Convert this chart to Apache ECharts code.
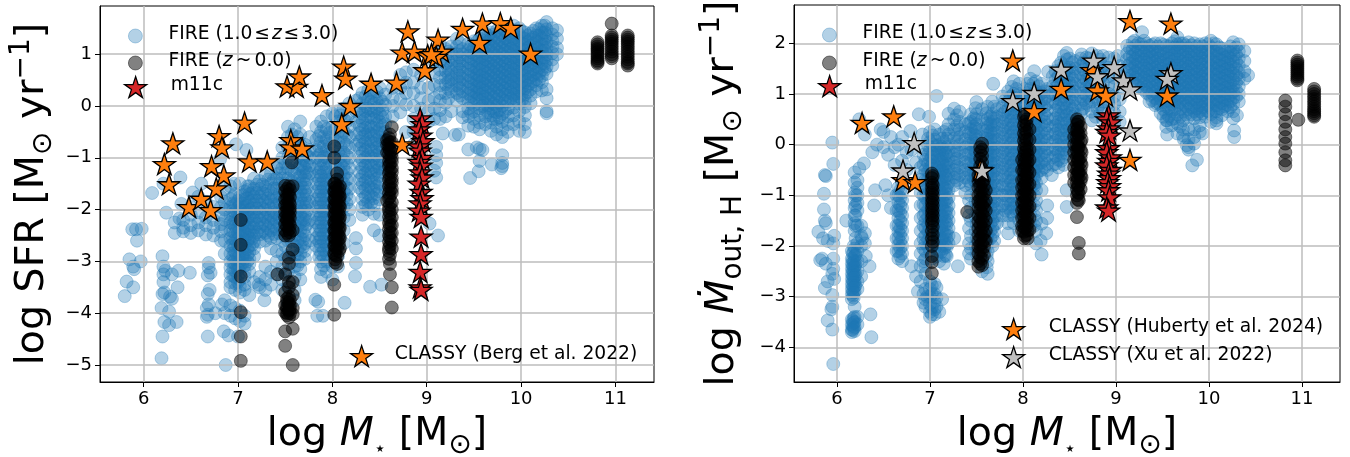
<!DOCTYPE html>
<html><head><meta charset="utf-8">
<style>html,body{margin:0;padding:0;background:#fff}#c{width:1350px;height:457px}</style>
<script src="https://cdn.jsdelivr.net/npm/echarts@6/dist/echarts.min.js"></script>
</head><body><div id="c"></div>
<script>
const xTickValues=[6,7,8,9,10,11];
const ySfrTickValues=[-5,-4,-3,-2,-1,0,1];
const yOutTickValues=[-4,-3,-2,-1,0,1,2];
const labelFireHigh='FIRE (1.0 ≤ z ≤ 3.0)', labelFireLocal='FIRE (z ~ 0.0)', labelM11c='m11c';
const labelBerg='CLASSY (Berg et al. 2022)', labelHuberty='CLASSY (Huberty et al. 2024)', labelXu='CLASSY (Xu et al. 2022)';

const sfrHighLoose=[[6.09,-1.68],[6.24,-2.06],[6.21,-1.5],[6.39,-1.38],[6.38,-2.17],[6.4,-1.89],[6.52,-1.67],[6.61,-1.5],[6.81,-1.03],[6.98,-0.74],[7.09,-0.85],[6.96,-1.5],[7.1,-1.55],[7.17,-1.4],
[5.8,-3.67],[5.82,-3.39],[5.89,-3.5],[5.85,-2.96],[5.89,-3.1],[5.9,-3.15],[5.97,-3],[5.93,-2.6],[5.88,-2.38],[5.92,-2.38],[5.98,-2.37],
[6.2,-2.9],[6.21,-3.1],[6.21,-3.25],[6.23,-3.18],[6.21,-3.4],[6.2,-3.63],[6.22,-3.6],[6.19,-3.9],[6.27,-3.97],[6.22,-4.17],[6.27,-4.23],[6.2,-4.45],[6.19,-4.87],[6.35,-4.17],[6.28,-3.68],[6.3,-3.72],[6.36,-3.5],[6.3,-3.25],[6.37,-3.18],[6.49,-3.22],
[6.69,-3.03],[6.69,-3.12],[6.68,-3.27],[6.71,-3.22],[6.7,-3.55],[6.68,-3.63],[6.67,-3.9],[6.69,-3.83],[6.67,-4.07],[6.68,-4.03],[6.68,-4.45],[6.87,-5],[6.85,-4.35],[6.9,-4.43],[6.76,-4],[6.83,-3.83],[7,-4.45],
[8.13,-3.8],[8.24,-3.29],[8.25,-3.03],[8.4,-3.49],[8.52,-3.45],[7.82,-3.74],[7.85,-3.78],[7.84,-4.05],[7.9,-4.05],[7.28,-3.75],[7.22,-3.45],[7.17,-3.4],
[9.12,-2.5],[9.03,-2.27],[9.1,-0.79],[9.1,-0.95],[9.1,-1.1],[9.08,-1.25],[9.1,-1.38],[9.17,-0.53],[9.3,-0.56],[9.34,-0.55],[9.44,-0.84],[9.53,-0.8],[9.56,-0.83],[9.59,-0.85],[9.56,-1.06],[9.55,-1.26],[9.46,-1.39],[9.69,-1.13],[9.8,-0.95],[9.8,-1.1],[9.79,-1.2],[9.8,-1.16]];
const sfrHighTracks=[
[6.33,[-2.25,-2.45]],[6.42,[-2.2,-2.35,-2.42]],[6.5,[-1.95,-2.1,-2.3,-2.45]],[6.58,[-1.75,-2.05,-2.25,-2.4]],[6.66,[-1.85,-2.15,-2.3,-2.48]],[6.74,[-1.95,-2.2,-2.35,-2.5]],[6.82,[-1.75,-1.95,-2.1,-2.28,-2.42,-2.6]],
[6.86,[-1.6,-1.85,-2,-2.2,-2.35,-2.6,-2.85,-3.75,-4.0]],
[6.92,[-1.55,-1.8,-1.95,-2.1,-2.25,-2.4,-2.55,-2.7,-2.85,-3,-3.12,-3.25,-3.4,-3.5,-3.85,-4.05]],
[6.97,[-1.7,-1.9,-2.05,-2.2,-2.32,-2.45,-2.58,-2.7,-2.82,-2.95,-3.05,-3.18,-3.3,-3.42,-3.55,-3.9,-4.1]],
[7.02,[-1.5,-1.75,-1.9,-2,-2.12,-2.25,-2.38,-2.5,-2.62,-2.75,-2.88,-3,-3.1,-3.22,-3.35,-3.48,-3.6,-3.95,-4.15]],
[7.07,[-1.65,-1.8,-1.95,-2.08,-2.2,-2.32,-2.45,-2.58,-2.7,-2.82,-2.95,-3.08,-3.2,-3.3,-3.45,-3.55,-4.05,-4.2]],
[7.12,[-1.55,-1.7,-1.85,-2,-2.15,-2.3,-2.42,-2.55,-2.7,-2.82,-2.95,-3.05,-3.2,-3.65]],
[7.17,[-1.6,-1.75,-1.9,-2.05,-2.2,-2.35,-2.5,-2.62,-2.75,-2.9]],
[7.23,[-1.45,-1.6,-1.75,-1.9,-2.05,-2.2,-2.35,-2.48,-2.62,-3.3,-3.5]],
[7.29,[-1.35,-1.55,-1.7,-1.85,-2,-2.15,-2.3,-2.45,-2.6,-3.1,-3.35,-3.55]],
[7.35,[-1.3,-1.5,-1.68,-1.82,-1.98,-2.12,-2.25,-2.4,-2.55,-2.75,-3.2,-3.45]],
[7.41,[-1.2,-1.4,-1.6,-1.78,-1.92,-2.08,-2.22,-2.38,-2.55,-2.8,-3,-3.25]],
[7.47,[-0.8,-1,-1.2,-1.4,-1.6,-1.8,-2,-2.2,-2.4,-2.6,-2.85,-3.1,-3.35,-3.55]],
[7.53,[-0.4,-0.6,-0.8,-1,-1.2,-1.4,-1.7,-2,-2.3,-2.6,-2.9,-3.2,-3.5,-3.8]],
[7.6,[-0.45,-0.7,-0.9,-1.1,-1.3,-1.5,-1.7,-1.9,-2.1,-2.3,-2.5,-2.7,-2.9,-3.1,-3.3,-3.55,-3.75]],
[7.66,[-0.3,-0.55,-0.75,-0.95,-1.15,-1.35,-1.5,-1.65,-1.8,-1.95,-2.1,-2.25,-2.4,-2.55,-2.7,-2.85,-3,-3.15,-3.35]],
[7.71,[-0.75,-0.9,-1.05,-1.2,-1.35,-1.5,-1.65,-1.8,-1.95,-2.1,-2.2,-2.35,-2.5,-2.65,-2.8,-2.95]],
[7.76,[-0.6,-0.85,-1,-1.15,-1.3,-1.85,-2.2,-2.6]],
[7.83,[-0.4,-0.65,-0.85,-1,-1.2,-1.35,-1.5,-1.65,-1.8,-1.95,-2.1,-2.25,-2.4,-2.55,-2.7]],
[7.88,[-0.3,-0.5,-0.7,-0.9,-1.05,-1.2,-1.35,-1.5,-1.65,-1.8,-1.95,-2.1,-2.25,-2.4,-2.55,-2.7,-2.85,-3,-3.15,-3.3]],
[7.94,[-0.2,-0.45,-0.65,-0.85,-1,-1.2,-1.35,-1.5,-1.65,-1.8,-1.95,-2.1,-2.25,-2.4,-2.55,-2.7,-2.85,-3,-3.2]],
[8,[-0.15,-0.4,-0.6,-0.85,-1.1,-1.35,-1.6,-1.85,-2.1,-2.35,-2.6,-2.85,-3.1,-3.35]],
[8.06,[-0.1,-0.3,-0.5,-0.7,-0.9,-1.05,-1.2,-1.35,-1.5,-1.65,-1.8,-1.95,-2.1,-2.3,-2.5,-2.7,-2.9,-3.1]],
[8.12,[-0.05,-0.25,-0.5,-0.7,-0.9,-1.05,-1.2,-1.35,-1.5,-1.65,-1.8,-1.95,-2.15,-2.4,-2.65]],
[8.18,[0.05,-0.15,-0.4,-0.6,-0.8,-1,-1.2,-1.4,-1.6,-1.8,-2,-2.2]],
[8.25,[0.1,-0.1,-0.3,-0.55,-0.75,-2.55,-2.75]],
[8.32,[0.25,0.05,-0.15,-0.3,-0.45,-0.6,-0.75,-0.9,-1.05,-1.2,-1.35,-1.5,-1.65,-1.8,-1.95,-2.1]],
[8.38,[0.3,0.12,-0.05,-0.2,-0.38,-0.5,-0.65,-0.8,-0.95,-1.1,-1.25,-1.4,-1.55,-1.7,-1.85,-2]],
[8.44,[0.2,0.05,-0.1,-0.25,-0.42,-0.58,-0.72,-0.88,-1.02,-1.18,-1.32,-1.48,-1.62,-1.78,-1.92,-2.08,-2.4]],
[8.5,[0.35,0.15,0,-0.15,-0.3,-0.45,-0.6,-0.75,-0.9,-1.05,-1.2,-1.35,-1.5,-1.65,-1.8,-2.1,-2.5]],
[8.56,[0.22,0.02,-0.2,-0.35,-0.5,-0.65,-1.2,-1.6]],
[8.64,[0.35,0.15,0,-0.2]],[8.72,[0.6,0.35,0.12,-0.12]],[8.78,[0.65,0.45,0.25,0.03,-0.5]],[8.86,[0.7,0.45,0.25,0,-0.25,-0.5,-0.75]],[8.94,[0.6,0.35,0.15,-0.05]],[9.02,[0.35,0.1,-0.1,-0.3]],
[9.08,[0.85,0.65,0.4,0.15,-0.05,-0.25]],
[9.14,[1.2,1.02,0.86,0.7,0.55,0.4,0.25,0.1,-0.08,-0.25]],
[9.2,[1.1,0.95,0.82,0.68,0.55,0.42,0.25,0.06,-0.2]],
[9.26,[1.15,1.02,0.9,0.78,0.65,0.52,0.4,0.28,-0.1]],
[9.32,[1.3,1.15,1,0.88,0.76,0.64,0.52,0.4,0.25,0.1]],
[9.38,[1.1,1,0.88,0.76,0.64,0.52,0.4,0.28,0.15,-0.1,-0.22]],
[9.44,[1.2,1.08,0.96,0.84,0.72,0.6,0.48,0.36,0.24,0.1,-0.05,-0.2,-0.38]],
[9.5,[1.25,1.12,1,0.88,0.76,0.64,0.52,0.4,0.28,0.16,0.02,-0.1,-0.25,-0.4]],
[9.56,[1.3,1.18,1.06,0.94,0.82,0.7,0.58,0.46,0.34,0.22,0.1,-0.05,-0.18,-0.32,-0.45]],
[9.62,[1.4,1.26,1.14,1.02,0.9,0.78,0.66,0.54,0.42,0.3,0.18,0.05,-0.08,-0.2,-0.35]],
[9.68,[1.42,1.3,1.18,1.06,0.94,0.82,0.7,0.58,0.46,0.34,0.22,0.08,-0.05,-0.18,-0.32,-0.48]],
[9.74,[1.45,1.33,1.2,1.08,0.96,0.84,0.72,0.6,0.48,0.36,0.24,0.12,0,-0.12,-0.25,-0.4,-0.55]],
[9.8,[1.5,1.36,1.24,1.12,1,0.88,0.76,0.64,0.52,0.4,0.28,0.14,0,-0.15,-0.3,-0.45,-0.6]],
[9.86,[1.52,1.4,1.28,1.16,1.04,0.92,0.8,0.68,0.56,0.44,0.32,0.2,0.08,-0.05,-0.2,-0.35,-0.5]],
[9.92,[1.55,1.42,1.3,1.18,1.06,0.94,0.82,0.7,0.58,0.46,0.34,0.22,0.1,-0.03,-0.18,-0.35]],
[9.98,[1.5,1.38,1.26,1.14,1.02,0.9,0.78,0.66,0.54,0.42,0.3,0.18,0.05,-0.1,-0.3,-0.48]],
[10.04,[1.42,1.3,1.18,1.06,0.94,0.82,0.7,0.58,0.46,0.34,0.22,0.1,-0.02,-0.18,-0.35,-0.5]],
[10.1,[1.4,1.28,1.16,1.04,0.92,0.8,0.68,0.56,0.44,0.32,0.2,0.05]],
[10.16,[1.5,1.36,1.24,1.12,1,0.88,0.76,0.64,0.52,0.4,0.28]],
[10.22,[1.55,1.42,1.3,1.18,1.06,0.94,0.82,0.7,0.58,0.46,0.3]],
[10.27,[1.62,1.48,1.36,1.24,1.12,1,0.88,0.76,0.62,0.32,0.15,-0.14,-0.1]],
[10.33,[1.5,1.38,1.26,1.14,1.02,0.9,0.78]],
[10.38,[1.46,1.3,1.12,1]],
[9.23,[1.05,0.87,0.72,0.6,0.47,0.33,0.15]],[9.35,[1.22,1.06,0.94,0.82,0.7,0.58,0.46,0.34,0.2]],[9.47,[1.16,1.04,0.92,0.8,0.68,0.55,0.43,0.31,0.19,0.06,-0.13]],
[9.53,[1.24,1.1,0.98,0.87,0.73,0.61,0.49,0.37,0.25,0.13]],[9.59,[1.35,1.21,1.09,0.97,0.85,0.73,0.6,0.48,0.36,0.24,0.12,0]],[9.65,[1.36,1.24,1.12,0.99,0.87,0.75,0.63,0.5,0.38,0.26,0.13,0.01,-0.12]],
[9.71,[1.38,1.26,1.13,1.01,0.89,0.77,0.65,0.53,0.41,0.29,0.17,0.04,-0.1,-0.25]],[9.77,[1.42,1.28,1.15,1.03,0.92,0.79,0.67,0.55,0.43,0.31,0.19,0.06,-0.08,-0.22]],[9.83,[1.45,1.31,1.19,1.07,0.94,0.82,0.7,0.58,0.46,0.34,0.22,0.09,-0.1]],
[9.89,[1.47,1.34,1.22,1.1,0.97,0.85,0.73,0.61,0.5,0.37,0.25,0.13]],[9.95,[1.46,1.33,1.2,1.08,0.96,0.84,0.72,0.6,0.48,0.36,0.24,0.12]],[10.01,[1.44,1.32,1.2,1.08,0.96,0.85,0.72,0.6,0.48,0.36,0.24,0.12]],
[10.07,[1.36,1.23,1.11,0.99,0.87,0.75,0.63,0.5,0.39,0.27]],[10.13,[1.45,1.32,1.2,1.08,0.96,0.84,0.72,0.6,0.48]],[10.19,[1.48,1.36,1.22,1.1,0.98,0.86,0.74,0.62,0.5]],[10.25,[1.55,1.42,1.3,1.18,1.06,0.94,0.82,0.7]],
[7,[-1.83,-1.96,-2.08,-2.2,-2.33,-2.45,-2.57,-2.69,-2.81,-2.93,-3.06,-3.16,-3.28,-3.4]],[7.05,[-1.72,-1.88,-2.02,-2.15,-2.27,-2.4,-2.52,-2.64,-2.76,-2.9,-3.03]],[7.15,[-1.68,-1.82,-1.97,-2.12,-2.27,-2.42,-2.56,-2.68]],
[7.26,[-1.52,-1.68,-1.82,-1.97,-2.12,-2.27,-2.42]],[7.38,[-1.42,-1.59,-1.75,-1.9,-2.05,-2.18,-2.32,-2.47]],[7.5,[-1.1,-1.3,-1.5,-1.7,-1.9,-2.1,-2.3,-2.5,-2.7,-2.95,-3.22]],
[7.63,[-0.6,-0.8,-1,-1.2,-1.4,-1.58,-1.72,-1.88,-2.03,-2.18,-2.33,-2.48,-2.62,-2.78,-2.92,-3.08]],[7.69,[-0.85,-1.02,-1.17,-1.28,-1.43,-1.58,-1.72,-1.88,-2.03,-2.18,-2.28,-2.43,-2.58,-2.72]],
[7.86,[-0.58,-0.78,-0.95,-1.12,-1.28,-1.43,-1.58,-1.73,-1.88,-2.03,-2.18,-2.33,-2.48,-2.62,-2.78,-2.92]],[7.91,[-0.4,-0.6,-0.78,-0.98,-1.12,-1.28,-1.43,-1.58,-1.73,-1.88,-2.03,-2.18,-2.33,-2.48,-2.62,-2.78,-2.92,-3.08]],
[8.03,[-0.2,-0.45,-0.65,-0.82,-0.98,-1.13,-1.28,-1.42,-1.58,-1.72,-1.88]],[8.09,[-0.18,-0.38,-0.6,-0.8,-0.98,-1.13,-1.28,-1.43,-1.58,-1.72,-1.88,-2.03]],
[8.35,[0.18,0,-0.1,-0.25,-0.42,-0.55,-0.7,-0.85,-1,-1.15,-1.3,-1.45,-1.6,-1.75,-1.9]],[8.41,[0.25,0.08,-0.08,-0.22,-0.4,-0.54,-0.68,-0.84,-0.98,-1.14,-1.28,-1.44,-1.58,-1.74,-1.88]],[8.47,[0.28,0.1,-0.05,-0.2,-0.35,-0.5,-0.66,-0.8,-0.95,-1.1,-1.25,-1.4,-1.55,-1.7]],
[6.95,[-1.75,-1.88,-2.02,-2.16,-2.28,-2.42,-2.55,-2.66,-2.78,-2.9,-3.02,-3.15,-3.28]],[7.1,[-1.62,-1.78,-1.92,-2.06,-2.18,-2.35,-2.48,-2.6,-2.76,-2.88,-3]],[7.2,[-1.52,-1.68,-1.83,-1.98,-2.14,-2.28,-2.44]],[7.32,[-1.42,-1.62,-1.78,-1.92,-2.08,-2.22,-2.36,-2.5]],[7.44,[-1.1,-1.3,-1.5,-1.7,-1.86,-2.02,-2.16,-2.3,-2.46]],[7.57,[-0.55,-0.85,-1.05,-1.25,-1.45,-1.62,-1.82,-2.02,-2.22,-2.42,-2.62,-2.82,-3.02]],[7.73,[-0.95,-1.1,-1.28,-1.42,-1.58,-1.72,-1.88,-2.02,-2.28]],[7.97,[-0.52,-0.72,-0.92,-1.1,-1.28,-1.42,-1.58,-1.72,-1.88,-2.02,-2.18,-2.32,-2.48,-2.62,-2.78]],[8.15,[-0.3,-0.55,-0.75,-0.95,-1.1,-1.28,-1.42,-1.58,-1.72,-1.88]],[8.29,[0.15,-0.05,-0.22,-0.38,-0.52,-0.68,-0.82,-0.98,-1.12,-1.28,-1.42,-1.58]],[8.53,[0.08,-0.08,-0.22,-0.38,-0.52,-0.68,-0.82,-0.98,-1.12,-1.28]]];
const sfrLocalTracks=[
[7.03,[-2.2,-2.68,-3.29,-3.98,-4.45,-4.92]],
[7.42,[-3.25]],
[7.57,[-1.09]],
[7.5,[-1.54,-1.65,-1.8,-1.92,-2.05,-2.15,-2.28,-2.4,-2.5,-3.25,-3.6,-3.85,-3.98,-4.35,-4.63]],
[7.54,[-1.55,-1.7,-1.85,-2,-2.12,-2.25,-2.38,-2.5,-2.93,-3.05,-3.4,-3.5,-3.68,-3.8,-3.95,-4.08]],
[7.58,[-1.55,-2.4,-2.77,-3.4,-3.65,-3.9,-4.02,-4.3,-5]],
[8.02,[-0.78,-1,-1.5,-1.65,-1.8,-1.95,-2.1,-2.25,-2.4,-2.55,-2.7,-2.85,-3.45,-4.03]],
[8.05,[-1.3,-1.42,-1.55,-1.7,-1.85,-2,-2.15,-2.3,-2.45,-2.6,-2.75,-2.9,-3.05]],
[8.08,[-1.55,-1.75,-1.95,-2.15,-2.35,-2.55,-2.75]],
[8.63,[-0.41,-3.5,-3.89,-0.8,-1,-1.2,-1.4,-1.6]],
[8.58,[-0.66,-0.75,-0.9,-1.83]],
[8.61,[-0.55,-0.7,-0.85,-1,-1.12,-1.25,-1.38,-1.5,-1.62,-1.75,-1.9,-2.07,-2.2,-2.32,-2.45,-2.55,-2.68,-2.87,-3.05,-3.25]],
[10.81,[1.23,1.15,1.08,1,0.92,0.82,1.19,1.11,1.04,0.96,0.88,0.85]],
[10.96,[1.59,1.36,1.28,1.2,1.1,1,0.92,1.32,1.24,1.15,1.05,0.96]],
[11.13,[1.36,1.28,1.2,1.1,1,0.9,0.78,1.32,1.24,1.15,1.05,0.95,0.85,0.82]],
[7.52,[-1.6,-1.72,-1.78,-1.88,-1.96,-2.02,-2.1,-2.18,-2.22,-2.32,-2.45,-3.72,-3.78,-3.88,-3.92,-4,-4.04]],
[7.55,[-1.62,-1.76,-1.9,-1.98,-2.06,-2.16,-2.3,-2.44,-3.75,-3.85,-3.92,-4]],
[8.03,[-1.5,-1.58,-1.66,-1.74,-1.82,-1.9,-1.98,-2.06,-2.14,-2.22,-2.3,-2.38,-2.46,-2.54,-2.62,-2.7,-2.78,-2.88,-2.96,-3.02]],
[8.07,[-1.6,-1.68,-1.76,-1.84,-1.92,-2.02,-2.1,-2.18,-2.26,-2.34,-2.42,-2.5,-2.58,-2.66,-2.8]],
[8.6,[-0.62,-0.74,-0.82,-0.92,-1.06,-1.16,-1.3,-1.42,-1.55,-1.68,-1.78,-1.96,-2.02,-2.14,-2.26,-2.38,-2.5,-2.62,-2.74,-2.8,-2.95]],
[8.63,[-0.7,-0.9,-1.08,-1.28,-1.48,-1.68,-1.86,-2.0,-2.15,-2.3,-2.45,-2.6,-2.75]]];
const classyBergStars=[[6.31,-0.72],[6.22,-1.12],[6.27,-1.51],[6.48,-1.95],[6.61,-1.79],[6.71,-2.01],[6.77,-1.59],[6.85,-1.34],[6.72,-1.16],[6.8,-0.58],[6.83,-0.8],[7.07,-0.32],[7.12,-1.07],[7.31,-1.07],[7.56,-0.66],[7.56,-0.8],[7.68,-0.82],[7.52,0.38],[7.62,0.37],[7.65,0.57],[7.89,0.21],[8.12,0.76],[8.14,0.53],[8.19,0],[8.1,-0.35],[8.41,0.43],[8.68,0.45],[8.74,-0.74],[8.8,1.44],[8.74,1.03],[8.87,1.05],[9.12,1.28],[9.16,1.05],[9.01,0.98],[8.98,0.69],[9.1,0.95],[9.05,1],[9.38,1.49],[9.59,1.59],[9.56,1.22],[9.78,1.6],[9.89,1.51],[10.1,1.01]];
const m11cSfrStars=[[8.93,-0.24],[8.95,-0.35],[8.92,-0.45],[8.94,-0.57],[8.96,-0.68],[8.92,-0.78],[8.93,-0.86],[8.95,-1],[8.92,-1.08],[8.94,-1.15],[8.93,-1.28],[8.95,-1.38],[8.92,-1.5],[8.94,-1.66],[8.95,-1.78],[8.93,-1.88],[8.92,-2.02],[8.94,-2.14],[8.94,-2.52],[8.94,-2.86],[8.93,-3.2],[8.93,-3.5],[8.94,-3.55]];

const outHighLoose=[[5.95,0.04],[5.96,-0.38],[5.87,-0.6],[5.88,-0.62],[5.86,-0.97],[5.86,-1.28],[5.87,-1.5],[5.88,-1.55],[5.8,-1.72],[5.85,-1.85],[5.9,-1.9],[5.97,-1.8],[5.96,-1.95],[5.84,-2.25],[5.82,-2.28],[5.88,-2.35],[5.96,-2.25],[5.96,-2.45],[5.97,-2.65],[5.95,-2.55],[5.87,-2.83],[5.9,-2.7],[5.95,-2.97],[5.95,-3.2],[5.94,-3.25],[5.9,-3.47],[5.95,-3.65],[5.96,-4.33],[6.1,-1.5],[6.36,-3.35],[6.37,-3.8],[6.35,-2.4],[6.31,-2.2],[6.3,-1.95],[6.3,-1.75],[6.27,-1.85],
[6.3,0.2],[6.24,0.5],[6.47,0.3],[6.5,0.25],[6.58,0.15],[6.7,0.15],[6.43,0],[6.38,-0.15],[6.29,-0.37],[6.24,-0.47],[6.19,-0.55],[6.88,0.6],[6.99,0.55],[7.07,0.96],[6.79,0.27],[6.7,-0.32],[6.41,-0.9],[6.4,-1.2],[6.52,-0.8],[6.55,-1],[6.58,-1.25],[6.62,-0.05],[6.5,-0.05],[6.55,-0.2],[6.66,0],[6.75,-0.15],[6.62,-0.4],[6.75,-0.5],[6.85,-0.35],[6.8,-0.1],[6.92,0.2],[7.3,-2.4],[7.18,-2.2],[7.84,-1.75],[6.97,-3],[6.87,-2.9],[6.85,-2.6],[6.8,-2.4],[7.13,-3.05],[7.1,-3.3],
[9.02,1.75],[8.47,1.81],[8.63,1.78],[8.12,1.45],[8.27,1.44],[7.68,1.2],[7.88,1.14],[8.78,0.55],[8.63,0.68],[8.47,-0.9],[8.47,-1.23],[8.2,-2.17],[8.25,-1.75],[8.19,-1.9],[8.2,-1.56],[8.26,-1.2],[8.2,-0.9],[8.31,-0.6],[9.82,-0.41],[9.87,-0.3],[9.76,-0.01],[9.78,-0.1],[9.73,0.1],[9.55,0.2],[9.55,0.48],[9.44,0.81],[9.93,0.22],[10.08,0.48],[10.27,0.15],[10.27,0.28],[10.3,0.58],[9.28,2.22],[9.2,2.05]];
const outHighTracks=[
[6.16,[-2.1,-2.25,-2.35,-2.45,-2.55,-2.65,-2.75,-2.85,-2.95,-3.05,-3.45,-3.55,-3.65,-3.7]],
[6.19,[-0.75,-0.95,-1.1,-1.25,-1.4,-1.55,-1.7,-2.05,-2.2,-2.3,-2.4,-2.5,-2.6,-2.7,-2.8,-2.9,-3.2,-3.4,-3.5,-3.6,-3.68]],
[6.22,[-0.7,-0.85,-1,-1.15,-1.3,-1.6,-1.95,-2.1,-2.3,-2.5,-2.7,-2.85,-3.4,-3.55]],
[6.26,[-1.6,-1.8,-2,-2.3,-2.6]],
[6.66,[-0.85,-1,-1.15,-1.3,-1.45,-1.6,-1.72,-1.85,-1.98,-2.1,-2.25]],
[6.7,[-0.75,-0.95,-1.1,-1.25,-1.4,-1.55,-1.7,-1.85,-2,-2.15,-2.3]],
[6.9,[-0.45,-0.7,-0.95,-1.2,-1.45,-1.7,-1.95,-2.15,-2.4,-2.7]],
[6.95,[-0.1,-0.3,-0.5,-0.7,-0.9,-1.05,-1.2,-1.35,-1.5,-1.65,-1.8,-1.95,-2.1,-2.25,-2.4,-2.55,-2.85,-3.05,-3.2]],
[7,[0.25,0.05,-0.1,-0.3,-0.45,-0.6,-0.75,-0.9,-1.05,-1.2,-1.35,-1.5,-1.65,-1.8,-1.95,-2.1,-2.7,-2.85,-3,-3.15,-3.3,-3.4]],
[7.05,[0.3,0.1,-0.1,-0.25,-0.4,-0.55,-0.7,-0.85,-1,-1.15,-1.3,-1.45,-1.6,-1.75,-1.9,-2.05,-2.75,-2.95,-3.1,-3.25,-3.35]],
[7.1,[0.2,0,-0.15,-0.3,-0.45,-0.6,-0.75,-0.9,-1.05,-1.2,-1.35,-1.5,-1.65,-1.8,-1.95,-2.1,-2.3]],
[7.15,[0.25,0.05,-0.1,-0.25,-0.4,-0.55,-0.7,-0.85,-1,-1.15,-1.3,-1.45,-1.6,-1.75,-1.9,-2.05,-2.2,-2.35]],
[7.2,[0.61,0.4,0.2,0,-0.15,-0.3,-0.45,-0.6,-0.75,-0.9,-1.05,-1.2,-1.35,-1.5,-1.65,-1.8,-1.95]],
[7.26,[0.71,0.5,0.3,0.12,-0.05,-0.2,-0.35,-0.5,-0.65,-0.8,-1.85]],
[7.32,[0.65,0.45,0.3,0.15,0,-0.15,-0.3,-0.45,-0.6,-0.75]],
[7.38,[0.4,0.25,0.1,-0.05,-0.2,-0.35,-0.5,-0.65,-0.8,-0.95]],
[7.44,[0.6,0.45,0.3,0.15,0,-0.15,-0.3,-0.45,-0.6,-0.8,-1,-1.25,-1.5,-1.8,-2.05,-2.25]],
[7.5,[0.84,0.6,0.4,0.25,0.1,-0.05,-0.2,-0.35,-0.5,-0.65,-0.8,-1,-1.25,-1.55,-1.85,-2.15]],
[7.56,[0.7,0.5,0.3,0.15,-0.85,-1.1,-1.4,-1.7,-2.3,-2.5]],
[7.62,[0.75,0.5,0.35,0.2,0.05,-0.1,-0.25,-0.4,-0.55,-0.7,-0.85,-1,-1.15,-1.3,-1.45,-1.6,-1.75,-1.9,-2.1,-2.3,-2.55]],
[7.67,[0.85,0.6,0.45,0.3,0.15,0,-0.15,-0.3,-0.45,-0.6,-0.75,-0.9,-1.05,-1.2,-1.35,-1.5,-1.65,-1.8,-2]],
[7.72,[0.7,0.55,0.4,0.25,0.1,-0.05,-0.2,-0.35,-0.5,-0.65,-0.8,-0.95,-1.1,-1.25,-1.4,-1.55]],
[7.78,[0.95,0.75,0.6,0.45,0.3,0.15,0,-0.15,-0.3,-0.45,-0.6,-0.8,-1,-1.2,-1.4]],
[7.84,[1.05,0.85,0.7,0.55,0.4,0.25,0.1,-0.05,-0.2,-0.35,-0.5,-0.65,-0.8,-0.95,-1.1,-1.25,-1.4,-1.55]],
[7.9,[1.25,1,0.85,0.7,0.55,0.4,0.25,0.1,-0.05,-0.2,-0.35,-0.5,-0.65,-0.8,-0.95,-1.1,-1.25,-1.4,-1.55]],
[7.96,[1.2,1,0.85,0.7,0.55,0.4,0.25,0.1,-0.05,-0.2,-0.35,-0.5,-0.7,-0.9,-1.1,-1.3,-1.5,-1.7]],
[8.02,[1.1,0.95,0.8,0.65,0.5,0.35,0.2,0.05,-0.1,-0.3,-0.5]],
[8.08,[1.3,1.1,0.95,0.8,0.65,0.5,0.35,0.2,0.05,-0.1,-0.25,-0.4,-0.55,-0.7,-0.85,-1,-1.2,-1.4,-1.6]],
[8.14,[1.25,1.05,0.9,0.75,0.6,0.45,0.3,0.15,0,-0.15,-0.3,-0.45,-0.6,-0.75,-0.9,-1.1,-1.3,-1.5,-1.7,-1.95]],
[8.2,[1.2,1.02,0.88,0.72,0.55,0.4,0.25,0.1,-0.05,-0.2,-0.35,-0.5,-0.65]],
[8.26,[1.1,0.95,0.8,0.68,0.52,0.38,0.22,0.08,-0.08,-0.22,-0.38,-0.5,-1.45]],
[8.32,[1.35,1.15,1,0.85,0.5,0.35,0.2,0.05,-0.1,-0.25,-0.4]],
[8.38,[1.55,1.35,1.2,1.05,0.9,0.75,0.6,0.45,0.3,0.15,0,-0.15,-0.3,-0.45]],
[8.44,[1.75,1.55,1.4,1.25,1.1,0.95,0.8,0.65,0.5,0.35,0.2,0.05,-0.1,-0.25,-0.4]],
[8.5,[1.7,1.52,1.38,1.22,1.08,0.92,0.78,0.62,0.48,0.32,0.18,0.02,-0.12]],
[8.56,[1.65,1.5,1.35,1.2,1.05,0.9,0.75,0.6,0.45,0.3,0.15,-0.05]],
[8.62,[1.7,1.55,1.4,1.25,1.1,0.95,0.8,0.6]],
[8.68,[1.72,1.58,1.42,1.28,1.12,0.98,0.82]],
[8.74,[1.8,1.62,1.48,1.32,1.18,1.02,0.85,0.65,0.48]],
[8.8,[1.75,1.58,1.42,1.25,1.08,0.9,0.72]],
[8.86,[1.75,1.55,1.38,1.2,1.02,0.85,0.68,0.5]],
[8.92,[1.72,1.52,1.35,1.18,1,0.82]],
[8.98,[1.7,1.5,1.32,1.15,0.95,0.8,0.62,0.42]],
[9.04,[1.55,1.35,1.12,0.9,0.65,0.45]],
[9.12,[1.95,1.8,1.68,1.55,1.42,1.3]],
[9.18,[2.02,1.88,1.75,1.63,1.5,1.38,1.25]],
[9.24,[2,1.88,1.76,1.64,1.52,1.4,1.28,1.15]],
[9.3,[2.05,1.92,1.8,1.68,1.56,1.44,1.32,1.2,1.08]],
[9.36,[1.95,1.83,1.71,1.59,1.47,1.35,1.23,1.1,0.98,0.85]],
[9.42,[2,1.88,1.76,1.64,1.52,1.4,1.28,1.16,1.04,0.92,0.78]],
[9.48,[2,1.86,1.74,1.62,1.5,1.38,1.26,1.14,1.02,0.9,0.78,0.62]],
[9.54,[1.95,1.83,1.71,1.59,1.47,1.35,1.23,1.11,0.99,0.87,0.75,0.62,0.48,0.35]],
[9.6,[2,1.88,1.76,1.64,1.52,1.4,1.28,1.16,1.04,0.92,0.8,0.66,0.5,0.38]],
[9.66,[2.12,1.98,1.86,1.74,1.62,1.5,1.38,1.26,1.14,1.02,0.9,0.78,0.6,0.42,0.22]],
[9.72,[2,1.88,1.76,1.64,1.52,1.4,1.28,1.16,1.04,0.92,0.8,0.65,0.48,0.3,0.18]],
[9.78,[2.02,1.9,1.78,1.66,1.54,1.42,1.3,1.18,1.06,0.94,0.82,0.7,0.55,0.3,0.1,-0.05]],
[9.84,[2,1.86,1.74,1.62,1.5,1.38,1.26,1.14,1.02,0.9,0.78,0.66,0.52,0.3,0.15,0.02]],
[9.9,[1.98,1.86,1.74,1.62,1.5,1.38,1.26,1.14,1.02,0.9,0.78,0.66,0.54,0.38,0.25]],
[9.96,[2,1.88,1.76,1.64,1.52,1.4,1.28,1.16,1.04,0.92,0.8,0.68,0.55]],
[10.02,[2.05,1.92,1.8,1.68,1.56,1.44,1.32,1.2,1.08,0.96,0.84,0.72,0.6,0.45]],
[10.08,[1.98,1.86,1.74,1.62,1.5,1.38,1.26,1.14,1.02,0.9,0.78,0.66,0.54,0.42]],
[10.14,[1.9,1.78,1.66,1.54,1.42,1.3,1.18,1.06,0.94,0.82,0.7,0.58]],
[10.2,[1.85,1.74,1.62,1.5,1.38,1.26,1.14,1.02,0.9,0.78,0.66]],
[10.26,[2.02,1.88,1.76,1.64,1.52,1.4,1.28,1.16,1.04,0.92,0.8,0.66,0.52]],
[10.32,[1.98,1.84,1.7,1.56,1.42,1.3,1.15,1,0.85]],
[10.38,[1.85,1.65,1.45,1.3]],[10.42,[1.37]],
[9.15,[1.9,1.74,1.6,1.48,1.36]],[9.21,[1.95,1.81,1.69,1.57,1.44,1.32,1.2]],[9.27,[1.98,1.86,1.74,1.62,1.5,1.36,1.24,1.12]],[9.33,[1.99,1.86,1.74,1.62,1.5,1.38,1.26,1.14,1.02]],
[9.39,[1.97,1.85,1.73,1.61,1.49,1.37,1.25,1.13,1.01,0.88]],[9.45,[1.94,1.82,1.7,1.58,1.46,1.34,1.22,1.1,0.98,0.84]],[9.51,[1.97,1.8,1.68,1.56,1.44,1.32,1.2,1.08,0.96,0.84,0.7,0.55]],[9.57,[1.94,1.82,1.7,1.58,1.46,1.34,1.22,1.1,0.98,0.86,0.72,0.56]],
[9.63,[2.04,1.92,1.8,1.68,1.56,1.44,1.32,1.2,1.08,0.96,0.84,0.7,0.52]],[9.69,[2,1.92,1.8,1.68,1.56,1.44,1.32,1.2,1.08,0.96,0.84,0.7,0.55,0.36]],[9.75,[1.96,1.84,1.72,1.6,1.48,1.36,1.24,1.12,1,0.88,0.76,0.6]],[9.81,[1.96,1.84,1.72,1.6,1.48,1.36,1.24,1.12,1,0.88,0.74,0.6]],
[9.87,[1.94,1.8,1.68,1.56,1.44,1.32,1.2,1.08,0.96,0.84,0.72,0.6]],[9.93,[1.94,1.82,1.7,1.58,1.46,1.34,1.22,1.1,0.98,0.86,0.74,0.62]],[9.99,[1.98,1.86,1.74,1.62,1.5,1.38,1.26,1.14,1.02,0.9,0.78,0.66]],[10.05,[2,1.86,1.74,1.62,1.5,1.38,1.26,1.14,1.02,0.9,0.78,0.66]],
[10.11,[1.92,1.8,1.68,1.56,1.44,1.32,1.2,1.08,0.96,0.84,0.72]],[10.17,[1.86,1.72,1.6,1.48,1.36,1.24,1.12,1,0.88,0.76]],[10.23,[1.94,1.82,1.7,1.58,1.46,1.34,1.22,1.1,0.98,0.86,0.74]],[10.29,[1.92,1.78,1.64,1.5,1.36,1.22,1.08,0.94]],
[6.98,[0.12,-0.02,-0.2,-0.37,-0.53,-0.68,-0.83,-0.98,-1.12,-1.28,-1.42,-1.58,-1.72,-1.88,-2.02]],[7.03,[0.18,0,-0.18,-0.33,-0.48,-0.63,-0.78,-0.93,-1.08,-1.23,-1.38,-1.53,-1.68,-1.83,-1.98]],[7.13,[0.12,-0.04,-0.2,-0.35,-0.5,-0.65,-0.8,-0.95,-1.1,-1.25,-1.4,-1.55,-1.7,-1.85,-2]],[7.18,[0.3,0.12,-0.05,-0.22,-0.37,-0.52,-0.67,-0.82,-0.97,-1.12,-1.27,-1.42,-1.57,-1.72,-1.87,-2.02]],
[7.29,[0.58,0.38,0.2,0.05,-0.12,-0.27,-0.42,-0.57,-0.7]],[7.47,[0.52,0.35,0.2,0.05,-0.1,-0.25,-0.4,-0.55,-0.7]],[7.65,[0.55,0.4,0.25,0.1,-0.05,-0.2,-0.35,-0.5,-0.65,-0.8,-0.95,-1.1,-1.25,-1.4,-1.55,-1.7,-1.85]],[7.81,[0.88,0.65,0.5,0.35,0.2,0.05,-0.1,-0.25,-0.4,-0.55,-0.7,-0.85,-1,-1.15,-1.3]],[7.87,[0.95,0.78,0.62,0.47,0.32,0.18,0.02,-0.12,-0.28,-0.42,-0.58,-0.72,-0.88,-1.02,-1.18,-1.32]],[7.93,[1.1,0.92,0.78,0.62,0.47,0.32,0.18,0.02,-0.12,-0.28,-0.42,-0.58,-0.72,-0.88,-1.02,-1.18,-1.32]],
[8.11,[1.2,1,0.88,0.72,0.58,0.42,0.28,0.12,-0.02,-0.18,-0.32,-0.48,-0.62,-0.78]],[8.17,[1.15,0.98,0.82,0.68,0.52,0.38,0.22,0.08,-0.08,-0.22,-0.38,-0.52]],[8.23,[1.05,0.9,0.75,0.6,0.45,0.3,0.15,0,-0.15,-0.3,-0.45]],[8.35,[1.45,1.28,1.12,0.98,0.82,0.68,0.52,0.38,0.22,0.08,-0.08,-0.22,-0.38]],[8.41,[1.62,1.45,1.32,1.18,1.02,0.88,0.72,0.58,0.42,0.28,0.12,-0.02,-0.18,-0.32]],[8.47,[1.68,1.48,1.32,1.18,1.02,0.88,0.72,0.58,0.42,0.28,0.12,-0.02,-0.18]],[8.53,[1.62,1.45,1.3,1.15,1,0.85,0.7,0.55,0.4,0.25,0.08]],[8.65,[1.62,1.48,1.32,1.18,1.02,0.88,0.72]],[8.71,[1.7,1.52,1.38,1.22,1.08,0.92,0.78]],[8.83,[1.68,1.5,1.32,1.15,0.98,0.8,0.62]],
[6.17,[-2.15,-2.28,-2.38,-2.48,-2.58,-2.68,-2.78,-2.88,-2.98,-3.48,-3.58,-3.66]],[6.18,[-2,-2.12,-2.32,-2.42,-2.52,-2.62,-2.72,-2.82,-2.92,-3.02,-3.42,-3.52,-3.62]],[6.2,[-1,-1.2,-1.4,-1.6,-1.85,-2.18,-2.38,-2.58,-2.78]],[6.68,[-0.9,-1.05,-1.2,-1.35,-1.5,-1.65,-1.78,-1.92,-2.05,-2.2]],[6.64,[-1,-1.3,-1.6,-1.85,-2.1]],[6.93,[-0.2,-0.4,-0.6,-0.8,-1,-1.18,-1.4,-1.6,-1.85,-2.05,-2.3,-2.95,-3.12]],[7.02,[-0.25,-0.42,-0.68,-0.88,-1.12,-1.32,-1.58,-1.78,-2.02,-2.25,-2.78,-2.95,-3.22,-3.35]],[7.07,[-0.02,-0.2,-0.45,-0.62,-0.82,-1.08,-1.28,-1.52,-1.72,-1.98,-2.2,-2.82,-3.02,-3.2]],[7.12,[-0.08,-0.28,-0.52,-0.72,-0.98,-1.18,-1.42,-1.62,-1.88,-2.12]],[7.17,[-0.18,-0.42,-0.62,-0.88,-1.08,-1.32,-1.52,-1.78,-1.98,-2.18]],[7.42,[0.42,0.22,0.02,-0.18,-0.38,-0.55,-0.72,-1.1,-1.4,-1.65,-1.95,-2.15]],[7.49,[0.72,0.5,0.32,0.18,0.02,-0.12,-0.28,-0.42,-0.58,-0.72,-1.12,-1.42,-1.7,-2]],[7.61,[0.62,0.42,0.28,0.12,-0.02,-0.18,-0.32,-0.48,-0.62,-0.78,-0.92,-1.08,-1.22,-1.38,-1.52,-1.68,-1.82,-2,-2.2,-2.42]],[7.69,[0.75,0.52,0.38,0.22,0.08,-0.08,-0.22,-0.38,-0.52,-0.68,-0.82,-0.98,-1.12,-1.28,-1.42,-1.58,-1.72,-1.9]],[7.99,[0.95,0.78,0.62,0.48,0.32,0.18,0.02,-0.12,-0.28,-0.42,-0.58,-0.78,-0.98,-1.2,-1.4,-1.6]],[8.05,[1.2,1.02,0.88,0.72,0.58,0.42,0.28,0.12,-0.02,-0.2,-0.4]],[8.12,[0.82,0.68,0.52,0.38,0.22,0.08,-0.08,-0.22,-0.38,-0.52,-0.68,-0.82,-1,-1.2,-1.4,-1.6]]];
const outLocalTracks=[
[7.02,[-0.57,-0.66,-0.75,-0.85,-0.95,-1.05,-1.15,-1.25,-1.35,-1.45,-1.55,-1.7,-1.85,-2,-2.2,-2.32,-2.54]],
[7.4,[-1.33]],
[7.52,[-0.6,-0.72,-0.85,-1,-1.12,-1.25,-1.4,-1.52,-1.65,-1.78,-1.9,-2.02,-2.15,-2.3,-2.41]],
[7.56,[0.02,-0.1,-0.22,-0.35,-0.48,-0.6,-0.75,-0.9,-1.05,-1.2,-1.35,-1.5,-1.65,-1.8,-1.95,-2.1,-2.25,-2.38]],
[7.6,[-0.9,-1.1,-1.3,-1.5,-1.7,-1.9]],
[7.99,[-0.3,-0.5,-0.7,-0.85,-1,-1.15,-1.3,-1.45,-1.6,-1.7]],
[8.02,[0.6,0.45,0.3,0.15,0,-0.15,-0.3,-0.45,-0.6,-0.75,-0.9,-1.05,-1.2,-1.35,-1.5,-1.65,-1.8]],
[8.05,[-0.2,-0.35,-0.5,-0.65,-0.8,-0.95,-1.1,-1.25,-1.4,-1.55,-1.7,-1.85]],
[8.55,[0.3,0.15,0,-0.15,-0.3,-0.45,-0.6,-0.75]],
[8.58,[0.5,0.4,0.28,0.15,0,-0.12,-0.25,-0.38,-0.5,-0.62,-0.75,-0.88,-1,-1.15,-1.43]],
[8.6,[0.45,0.2,-0.05,-0.3,-0.55,-0.8,-0.96,-1.1,-1.94,-2.15]],
[8.63,[0.1,-0.15,-0.4,-0.65]],
[10.82,[0.87,0.75,0.6,0.45,0.3,0.15,0.02,-0.15,-0.31,-0.41]],
[10.96,[0.49]],
[10.95,[1.66,1.58,1.5,1.42,1.34,1.27,1.62,1.54,1.46,1.38,1.3]],
[11.13,[1.1,1,0.9,0.8,0.7,0.62,0.55,1.05,0.95,0.85,0.75,0.66,0.58]],
[7.03,[-0.62,-0.8,-0.9,-1,-1.1,-1.2,-1.3,-1.4,-1.5,-1.62,-1.78,-1.92]],
[7.54,[-0.05,-0.15,-0.28,-0.42,-0.55,-0.68,-0.82,-0.95,-1.08,-1.18,-1.3,-1.45,-1.58,-1.72,-1.85,-1.98,-2.08,-2.22,-2.35]],
[7.58,[-0.7,-0.82,-0.98,-1.15,-1.25,-1.42,-1.58,-1.75,-1.88,-2.02,-2.18]],
[8.01,[0.55,0.38,0.22,0.08,-0.08,-0.22,-0.38,-0.52,-0.68,-0.82,-0.98,-1.12,-1.28,-1.42,-1.58,-1.72,-1.85]],
[8.04,[0.5,0.4,0.25,0.1,-0.05,-0.12,-0.28,-0.42,-0.58,-0.72,-0.88,-1.02,-1.18,-1.32,-1.48,-1.62,-1.78]],
[8.07,[0.3,0.1,-0.1,-0.3,-0.55,-0.78,-1,-1.22,-1.45,-1.68]],
[8.59,[0.45,0.32,0.22,0.08,-0.06,-0.18,-0.32,-0.44,-0.56,-0.68,-0.82,-0.94,-1.08]],
[8.62,[0.35,0.22,0.05,-0.1,-0.25,-0.35,-0.5,-0.6,-0.72,-0.88]]];
const classyHubertyStars=[[6.27,0.43],[6.61,0.56],[6.71,-0.7],[6.84,-0.74],[7.54,-0.5],[7.89,1.66],[9.15,2.44],[9.59,2.39],[8.41,1.1],[8.12,0.66],[8.8,1.07],[8.89,0.97],[9.55,0.97],[9.15,-0.3],[8.74,1.47]];
const classyXuStars=[[6.83,0.03],[6.71,-0.51],[7.56,-0.51],[7.89,0.86],[8.12,1.02],[8.41,1.48],[8.76,1.66],[8.8,1.35],[8.98,1.53],[9.08,1.27],[9.15,1.09],[9.59,1.41],[9.55,1.3],[9.15,0.28]];
const m11cOutStars=[[8.92,0.58],[8.9,0.5],[8.94,0.44],[8.92,0.32],[8.9,0.25],[8.93,0.18],[8.92,-0.07],[8.9,-0.15],[8.94,-0.25],[8.92,-0.32],[8.9,-0.41],[8.94,-0.5],[8.92,-0.57],[8.93,-0.66],[8.91,-0.74],[8.93,-0.82],[8.92,-0.9],[8.93,-1.04],[8.9,-1.24],[8.92,-1.3]];

const expand=(tracks,loose)=>loose.concat(tracks.flatMap(t=>t[1].map(y=>[t[0],y])));
const FONT='"DejaVu Sans"';
const STAR='path://M0,-100L22.45,-30.9L95.1,-30.9L36.33,11.8L58.78,80.9L0,38.2L-58.78,80.9L-36.33,11.8L-95.1,-30.9L-22.45,-30.9Z';
const minus=v=>String(v).replace('-','−');
const NS=39.5, LS=18.7;
const nameRich={
 t:{fontFamily:FONT,fontSize:NS,color:'#000',lineHeight:50},
 it:{fontFamily:FONT,fontSize:NS,fontStyle:'italic',color:'#000',lineHeight:50},
 sub:{fontFamily:FONT,fontSize:28,color:'#000',lineHeight:28,verticalAlign:'bottom'},
 substar:{fontFamily:FONT,fontSize:20,color:'#000',lineHeight:20,verticalAlign:'bottom'},
 sup:{fontFamily:FONT,fontSize:28,color:'#000',lineHeight:28,verticalAlign:'top'}
};
const legRich={a:{fontFamily:FONT,fontSize:LS,color:'#000'},i:{fontFamily:FONT,fontSize:LS,fontStyle:'italic',color:'#000'},s:{fontFamily:FONT,fontSize:6,color:'#000'},m:{fontFamily:FONT,fontSize:10,color:'#000'}};
const legFmt=n=>n.indexOf('≤')>=0?'{a|FIRE (1.0}{s| }{a|≤}{s| }{i|z}{s| }{a|≤}{s| }{a|3.0)}':n.indexOf('~')>=0?'{a|FIRE (}{i|z}{m| }{a|~}{m| }{a|0.0)}':'{a|'+n+'}';

function xAx(g,l){return {type:'value',gridIndex:g,min:5.538,max:11.408,z:2,containShape:false,
 name:l,nameLocation:'middle',nameGap:28,nameTextStyle:{rich:nameRich,fontFamily:FONT,fontSize:NS},
 axisLine:{show:true,onZero:false,lineStyle:{color:'#000',width:1}},
 axisTick:{show:true,length:5,customValues:xTickValues,lineStyle:{color:'#000',width:1}},
 axisLabel:{customValues:xTickValues,color:'#000',fontFamily:FONT,fontSize:18,margin:8,formatter:minus},
 splitLine:{show:true,lineStyle:{color:'#bdbdbd',width:1.5}}};}
function yAx(g,l,min,max,ticks,gap){return {type:'value',gridIndex:g,min,max,z:2,containShape:false,
 name:l,nameLocation:'middle',nameGap:gap,nameRotate:90,nameTextStyle:{rich:nameRich,fontFamily:FONT,fontSize:NS},
 axisLine:{show:true,onZero:false,lineStyle:{color:'#000',width:1}},
 axisTick:{show:true,length:5,customValues:ticks,lineStyle:{color:'#000',width:1}},
 axisLabel:{customValues:ticks,color:'#000',fontFamily:FONT,fontSize:18,margin:8,formatter:minus},
 splitLine:{show:true,lineStyle:{color:'#bdbdbd',width:1.5}}};}
const blue={color:'rgba(31,119,180,0.42)',borderColor:'rgba(31,119,180,0.5)',borderWidth:0.8};
const black={color:'rgba(0,0,0,0.62)',borderColor:'rgba(0,0,0,0.7)',borderWidth:0.8};
const star=c=>({color:c,opacity:1,borderColor:'#000',borderWidth:1.3});
function ser(name,g,data,sym,size,st,z){return {type:'scatter',name,xAxisIndex:g,yAxisIndex:g,data,symbol:sym,symbolSize:size,symbolKeepAspect:true,itemStyle:st,z,silent:true,clip:true,animation:false,emphasis:{disabled:true},progressive:0};}
function leg(name,left,top,h,pad,icon,st){return {show:true,left,top,orient:'vertical',padding:0,itemWidth:h,itemHeight:h,selectedMode:false,
 data:[{name,icon,itemStyle:st}],formatter:legFmt,textStyle:{fontFamily:FONT,fontSize:LS,color:'#000',rich:legRich,padding:[0,0,3,pad]}};}

const option={animation:false,backgroundColor:'#fff',
 grid:[{left:100,top:6,width:554,height:376,outerBoundsMode:'none',show:true,borderColor:'#000',borderWidth:1,backgroundColor:'transparent'},
       {left:794,top:5,width:546,height:377,outerBoundsMode:'none',show:true,borderColor:'#000',borderWidth:1,backgroundColor:'transparent'}],
 xAxis:[xAx(0,'{t|log }{it|M}{substar|⋆}{t| [M}{sub|⊙}{t|]}'),xAx(1,'{t|log }{it|M}{substar|⋆}{t| [M}{sub|⊙}{t|]}')],
 yAxis:[yAx(0,'{t|log SFR [M}{sub|⊙}{t| yr}{sup|−1}{t|]}',-5.328,1.93,ySfrTickValues,42),
        yAx(1,'{t|log }{it|M\u0307}{sub|out, H}{t| [M}{sub|⊙}{t| yr}{sup|−1}{t|]}',-4.685,2.756,yOutTickValues,46)],
 legend:[
  leg(labelFireHigh,128,25,14,21,'circle',blue),leg(labelFireLocal,128,52,14,21,'circle',black),leg(labelM11c,124,76,22,19,STAR,star('#d62728')),
  leg(labelBerg,350,345,22,17,STAR,star('#ff7f0e')),
  leg(labelFireHigh,822,24,14,21,'circle',blue),leg(labelFireLocal,822,52,14,21,'circle',black),leg(labelM11c,818,75,22,19,STAR,star('#d62728')),
  leg(labelHuberty,1002,318,22,19,STAR,star('#ff7f0e')),leg(labelXu,1002,346,22,19,STAR,star('#c0c0c0'))],
 series:[
  ser(labelFireHigh,0,expand(sfrHighTracks,sfrHighLoose),'circle',13,blue,1),
  ser(labelFireLocal,0,expand(sfrLocalTracks,[]),'circle',13,black,3),
  ser(labelBerg,0,classyBergStars,STAR,22,star('#ff7f0e'),4),
  ser(labelM11c,0,m11cSfrStars,STAR,22,star('#d62728'),6),
  ser(labelFireHigh,1,expand(outHighTracks,outHighLoose),'circle',13,blue,1),
  ser(labelFireLocal,1,expand(outLocalTracks,[]),'circle',13,black,3),
  ser(labelHuberty,1,classyHubertyStars,STAR,22,star('#ff7f0e'),4),
  ser(labelXu,1,classyXuStars,STAR,22,star('#c0c0c0'),5),
  ser(labelM11c,1,m11cOutStars,STAR,22,star('#d62728'),6)]};
echarts.init(document.getElementById('c'),null,{renderer:'canvas'}).setOption(option);
</script></body></html>
